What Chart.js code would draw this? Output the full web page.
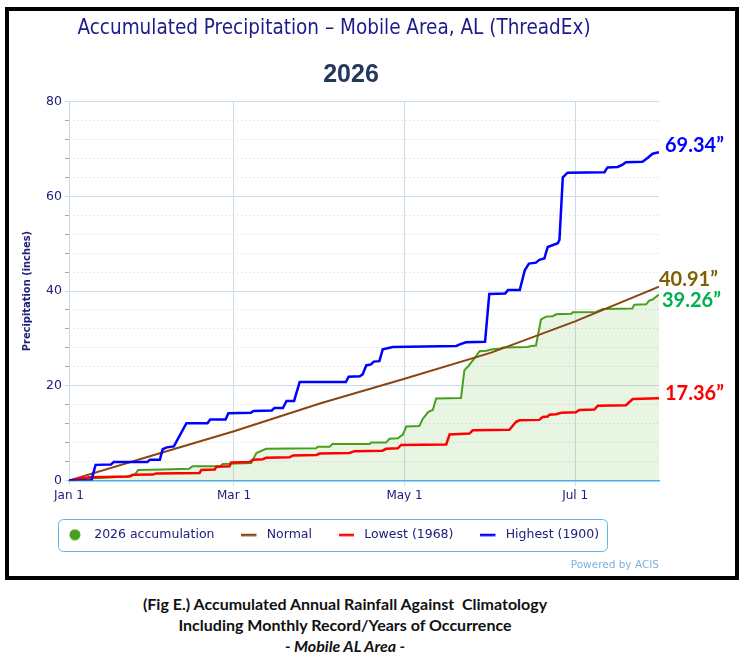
<!DOCTYPE html>
<html>
<head>
<meta charset="utf-8">
<script src="https://cdn.jsdelivr.net/npm/chart.js@4.4.1/dist/chart.umd.min.js"></script>
<style>
  html, body { margin: 0; padding: 0; background: #fff; }
  #frame { position: absolute; left: 5px; top: 7px; width: 726px; height: 565px; border: 4px solid #000; }
  #wrap { position: absolute; left: 0; top: 0; width: 726px; height: 565px; }
  #acis { position: absolute; right: 76px; top: 547px; font: 10.5px 'DejaVu Sans', sans-serif; color: #7fb0de; }
  #caption { position: absolute; left: 0; top: 593px; width: 690px; text-align: center;
             font: bold 16px Lato, 'Open Sans', sans-serif; line-height: 21px; color: #111; white-space: pre; }
</style>
</head>
<body>
<div id="frame">
  <div id="wrap"><canvas id="chart"></canvas></div>
  <div id="acis">Powered by ACIS</div>
</div>
<div id="caption">(Fig E.) Accumulated Annual Rainfall Against  Climatology
Including Monthly Record/Years of Occurrence
<i>- Mobile AL Area -</i></div>
<script>
// x values are days since Jan 1
const monthTicks = [0, 59, 120, 181];
const monthLabels = ['Jan 1', 'Mar 1', 'May 1', 'Jul 1'];
const lastDay = 211;
const subtitleText = '2026';

// 2026 accumulation
const yearDays = [0, 4, 8.5, 20.5, 23.5, 24.7, 33.6, 43, 44.2, 53.9, 55, 59.8, 65.2, 67, 70.5, 88.4, 88.9, 93.2, 94.2, 107.5,
  108.1, 113.4, 114.6, 117.6, 119.4, 120.6, 125.3, 126.5, 128.5, 130.1, 131.3, 140.2, 141.4, 142.6, 145, 146.8, 149.2, 151.5, 153.9, 155.1,
  164, 165.3, 167, 168.8, 170.6, 173, 174.2, 179.6, 180.1, 188.5, 190.9, 201.4, 202.2, 206.4, 207.5, 208.7, 211];
const yearVals = [0, 0.2, 0.5, 0.85, 1.2, 2.2, 2.3, 2.5, 3.0, 3.0, 3.5, 3.6, 3.7, 5.8, 6.7, 6.8, 7.1, 7.1, 7.7, 7.7,
  8.0, 8.0, 8.8, 8.9, 9.7, 11.4, 11.5, 13.0, 14.5, 14.9, 17.3, 17.4, 23.3, 24.0, 25.8, 27.3, 27.4, 27.7, 27.8, 28.1,
  28.2, 28.4, 28.5, 34.0, 34.6, 34.7, 35.1, 35.2, 35.5, 35.6, 36.2, 36.3, 37.1, 37.2, 38.0, 38.2, 39.26];

// Normal
const normalDays = [0, 31, 59, 90, 120, 151, 181, 211];
const normalVals = [0, 5.5, 10.4, 16.3, 21.5, 27.0, 33.6, 40.91];

// Lowest (1968)
const lowDays = [0, 7.4, 21.7, 22.8, 30, 31.2, 46.7, 47.3, 52.1, 52.7, 57.4, 58, 64.6, 65.8, 69.3, 70.5, 78.9, 80.1, 88.5, 89.6,
  100.3, 102.1, 112.1, 113.4, 117.6, 118.8, 134.9, 136.1, 143.2, 144.4, 157.5, 159.9, 161.1, 168.2, 169.4, 171.2, 171.8, 174.2, 176, 181.3,
  182.5, 187.9, 189.1, 199.2, 201.6, 211];
const lowVals = [0, 0.7, 0.85, 1.2, 1.25, 1.5, 1.6, 2.2, 2.3, 2.9, 3.0, 3.8, 3.9, 4.4, 4.5, 4.8, 4.9, 5.3, 5.4, 5.7,
  5.8, 6.2, 6.3, 6.7, 6.8, 7.5, 7.6, 9.7, 9.9, 10.6, 10.7, 12.4, 12.7, 12.8, 13.4, 13.5, 13.9, 14.0, 14.3, 14.4,
  14.9, 15.0, 15.8, 15.9, 17.2, 17.36];

// Highest (1900)
const highDays = [0, 8, 9.5, 15, 16, 28, 29, 32.5, 33.5, 35, 37.5, 42, 49.5, 50.5, 56, 57, 65, 66, 72.5, 73.5,
  76.5, 77.8, 80.5, 82.5, 99, 100, 104, 105, 106.3, 108, 109, 111, 112.2, 115.8, 138.5, 140, 142, 148.8, 150.3, 156,
  157, 161.2, 163, 164.5, 167, 168.2, 170, 171.2, 174.8, 175.4, 176.6, 178.3, 191.5, 192.6, 196.2, 198, 199.2, 205.1, 206.9, 208.7, 211];
const highVals = [0, 0, 3.3, 3.4, 3.9, 3.9, 4.4, 4.4, 6.6, 7.0, 7.2, 12.1, 12.1, 12.9, 12.9, 14.2, 14.3, 14.7, 14.8, 15.3,
  15.3, 16.8, 16.8, 20.8, 20.8, 21.9, 22.0, 22.4, 24.3, 24.5, 25.1, 25.2, 27.7, 28.2, 28.4, 28.8, 29.2, 29.3, 39.4, 39.5,
  40.2, 40.2, 44.4, 45.8, 46.0, 46.6, 46.9, 49.3, 50.1, 50.8, 64.0, 65.0, 65.1, 66.1, 66.2, 66.7, 67.2, 67.3, 68.1, 69.0, 69.34];

const navy = '#20207a';
const gridBlue = '#c8dcee';
const greenLine = '#4a9e1e';
const condensed = "'DejaVu Sans Condensed', 'DejaVu Sans', sans-serif";

function pairs(days, vals) {
  return days.map((d, i) => ({ x: d, y: vals[i] }));
}

// small legend symbols: circle or short line, drawn in the left part of a 19px box
function legendSymbol(kind, color) {
  const c = document.createElement('canvas');
  c.width = 19;
  c.height = 12;
  const g = c.getContext('2d');
  g.fillStyle = color;
  if (kind === 'circle') {
    g.beginPath();
    g.arc(6, 6, 5.5, 0, Math.PI * 2);
    g.fill();
  } else {
    g.fillRect(0, 5, 15, 2.5);
  }
  return c;
}

// value written at the end of each line
const endLabels = {
  id: 'endLabels',
  afterDatasetsDraw(chart) {
    const ctx = chart.ctx;
    chart.data.datasets.forEach((ds, i) => {
      const meta = chart.getDatasetMeta(i);
      const pt = meta.data[meta.data.length - 1];
      const last = ds.data[ds.data.length - 1].y;
      ctx.save();
      ctx.font = 'bold 20px Lato, sans-serif';
      ctx.fillStyle = ds.endColor;
      ctx.textBaseline = 'middle';
      ctx.fillText(last.toFixed(2) + '\u201D', pt.x + ds.endDx, pt.y + ds.endDy);
      ctx.restore();
    });
  }
};

// rounded frame around the legend
const legendFrame = {
  id: 'legendFrame',
  afterDraw(chart) {
    const boxes = chart.legend.legendHitBoxes;
    if (!boxes || !boxes.length) return;
    const ctx = chart.ctx;
    const l = Math.min(...boxes.map(b => b.left)) - 11;
    const r = Math.max(...boxes.map(b => b.left + b.width)) + 8;
    const cy = boxes[0].top + boxes[0].height / 2;
    ctx.save();
    ctx.strokeStyle = '#62b4e6';
    ctx.lineWidth = 1;
    ctx.beginPath();
    ctx.roundRect(Math.round(l) + 0.5, Math.round(cy - 16) + 0.5, Math.round(r - l), 32, 5);
    ctx.stroke();
    ctx.restore();
  }
};

// the year sits a little right of the main title's centre
const shiftSubtitle = {
  id: 'shiftSubtitle',
  afterLayout(chart) {
    const box = chart.boxes.find(b => b.options && b.options.text === subtitleText);
    if (box) box.left += 34;
  }
};

Chart.defaults.font.family = "'DejaVu Sans', sans-serif";
Chart.defaults.color = navy;

new Chart(document.getElementById('chart'), {
  type: 'line',
  data: {
    datasets: [{
      label: '2026 accumulation',
      data: pairs(yearDays, yearVals),
      borderColor: greenLine,
      backgroundColor: 'rgba(110,185,70,0.15)',
      borderWidth: 2,
      fill: 'origin',
      order: 4,
      endColor: '#00b050', endDx: 3, endDy: 6
    }, {
      label: 'Normal',
      data: pairs(normalDays, normalVals),
      borderColor: '#8b4513',
      borderWidth: 2,
      fill: false,
      order: 3,
      endColor: '#7f6000', endDx: 0, endDy: -7
    }, {
      label: 'Lowest (1968)',
      data: pairs(lowDays, lowVals),
      borderColor: '#ff0000',
      borderWidth: 2.5,
      fill: false,
      order: 2,
      endColor: '#ff0000', endDx: 6, endDy: -5
    }, {
      label: 'Highest (1900)',
      data: pairs(highDays, highVals),
      borderColor: '#0000ff',
      borderWidth: 2.5,
      fill: false,
      order: 1,
      endColor: '#0000ff', endDx: 6, endDy: -7
    }]
  },
  options: {
    responsive: true,
    maintainAspectRatio: false,
    animation: false,
    layout: { padding: { left: 0, right: 76, top: 0, bottom: 25 } },
    elements: { point: { radius: 0, hoverRadius: 0 }, line: { tension: 0 } },
    plugins: {
      title: {
        display: true,
        text: 'Accumulated Precipitation \u2013 Mobile Area, AL (ThreadEx)',
        color: '#1c1c8c',
        font: { size: 20.5, weight: 'normal', family: condensed },
        padding: { top: 5, bottom: 0 }
      },
      subtitle: {
        display: true,
        text: subtitleText,
        color: '#24385b',
        font: { size: 25, weight: 'bold', family: "'Liberation Sans', sans-serif" },
        padding: { top: 20, bottom: 11 }
      },
      legend: {
        position: 'bottom',
        labels: {
          usePointStyle: true,
          pointStyleWidth: 19,
          boxHeight: 12,
          padding: 27,
          color: navy,
          font: { size: 12.5 },
          generateLabels(chart) {
            return chart.data.datasets.map((ds, i) => ({
              text: ds.label,
              datasetIndex: i,
              hidden: false,
              pointStyle: legendSymbol(i === 0 ? 'circle' : 'line', ds.borderColor),
              fillStyle: ds.borderColor,
              strokeStyle: ds.borderColor,
              lineWidth: 0,
              fontColor: navy
            }));
          }
        }
      },
      tooltip: { enabled: false }
    },
    scales: {
      x: {
        type: 'linear',
        min: 0,
        max: lastDay,
        afterBuildTicks(scale) {
          scale.ticks = monthTicks.map(v => ({ value: v }));
        },
        afterFit(scale) { scale.height = 21; },
        ticks: {
          autoSkip: false,
          maxRotation: 0,
          padding: 3,
          color: navy,
          font: { size: 12 },
          callback: v => monthLabels[monthTicks.indexOf(v)]
        },
        grid: { color: gridBlue, tickColor: gridBlue, tickLength: 5 },
        border: { color: '#4aaee6', width: 1.5 }
      },
      y: {
        min: 0,
        max: 80,
        afterFit(scale) { scale.width = 60; },
        ticks: {
          stepSize: 4,
          padding: 3,
          color: navy,
          font: { size: 12.5 },
          callback: v => (v % 20 === 0 ? v : '')
        },
        title: {
          display: true,
          text: 'Precipitation (inches)',
          color: navy,
          font: { size: 11, weight: 'bold', family: condensed },
          padding: { top: 12, bottom: 0 }
        },
        grid: {
          color: c => (c.tick.value % 20 === 0 ? gridBlue : 'rgba(0,0,0,0)'),
          tickColor: c => (c.tick.value % 20 === 0 ? gridBlue : '#a8a8a8'),
          tickLength: 4
        },
        border: { color: gridBlue }
      },
      yMinor: {
        position: 'left',
        min: 0,
        max: 80,
        afterFit(scale) { scale.width = 0; },
        ticks: { display: false, stepSize: 4 },
        grid: {
          drawTicks: false,
          color: c => (c.tick.value % 20 === 0 ? 'rgba(0,0,0,0)' : '#d6d6d6')
        },
        border: { display: false, dash: [1, 3] }
      }
    }
  },
  plugins: [endLabels, legendFrame, shiftSubtitle]
});
</script>
</body>
</html>
